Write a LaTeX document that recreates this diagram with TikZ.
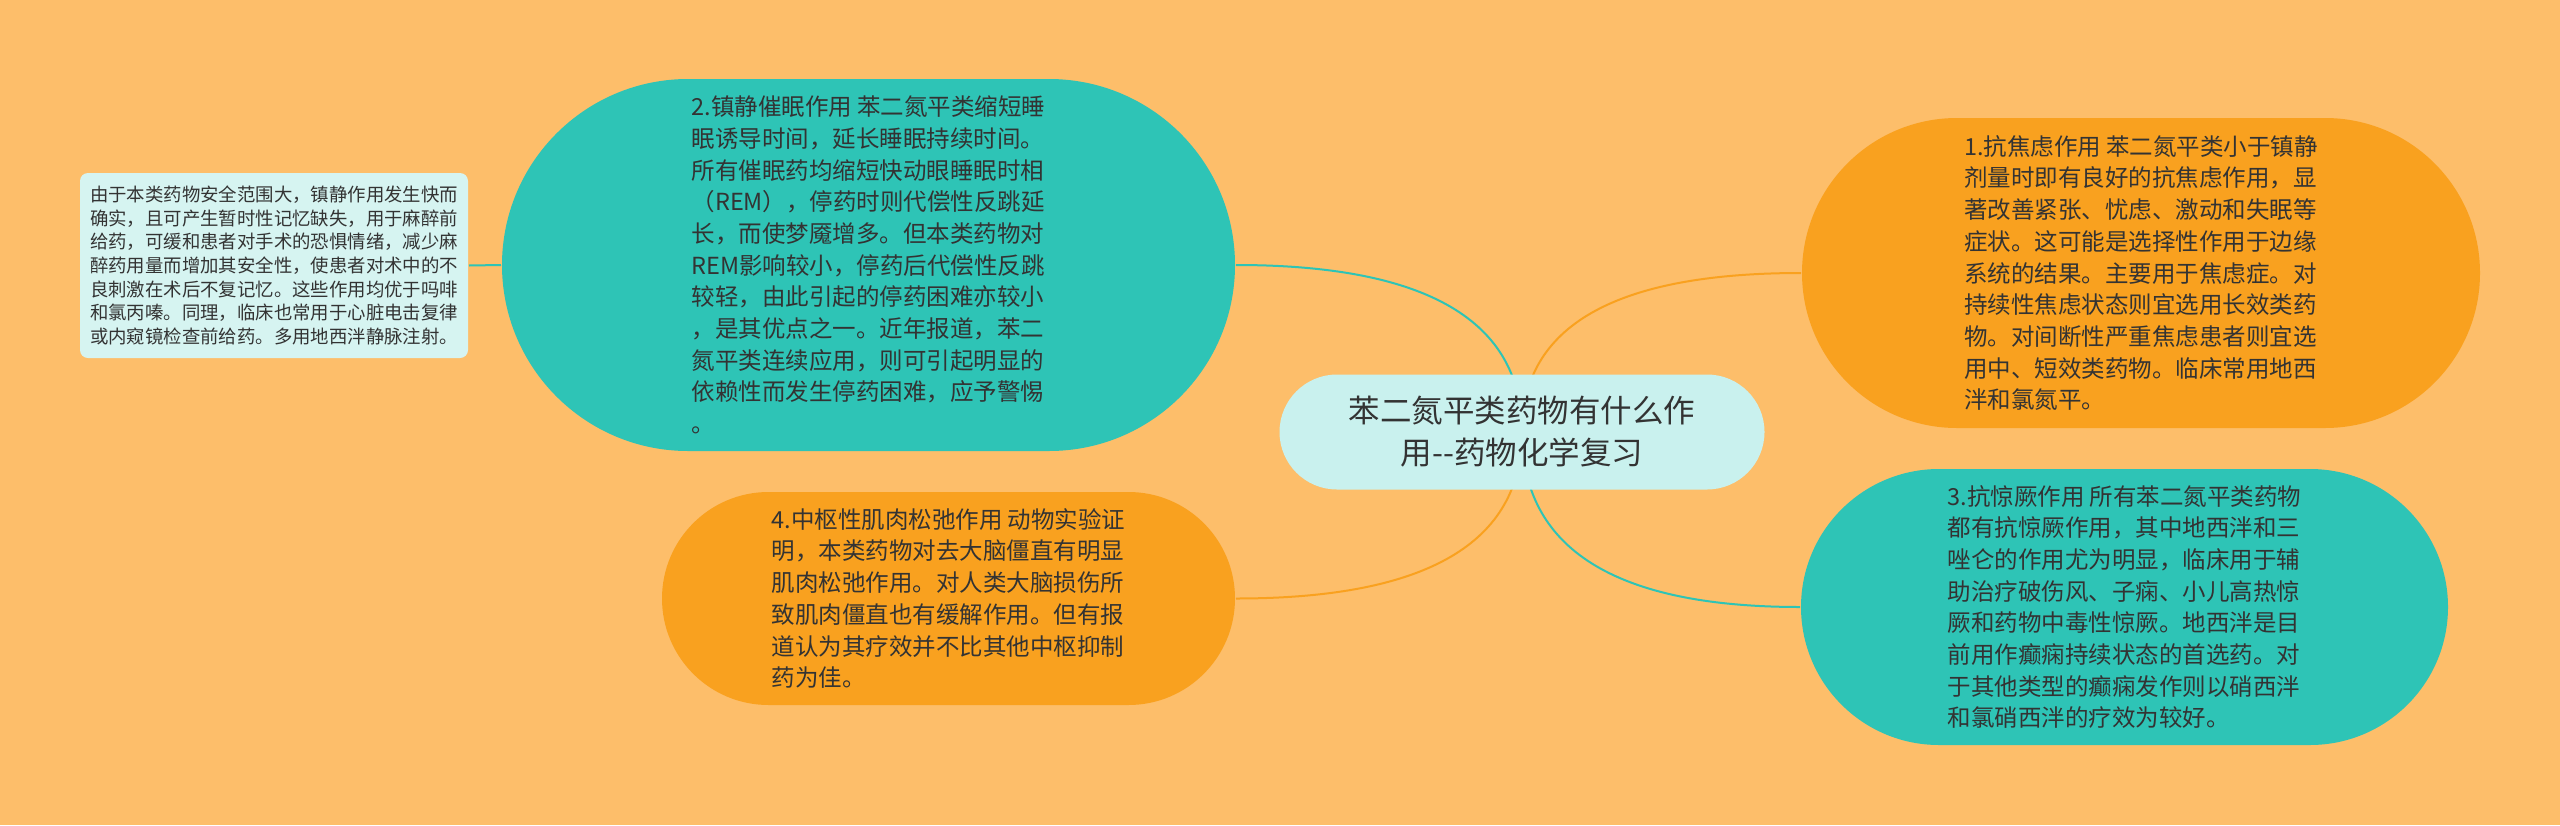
\documentclass[tikz,border=0pt]{standalone}
\usepackage{fontspec}
\newfontfamily\zhfont{Noto Sans CJK SC}
\usetikzlibrary{shapes.misc, calc, backgrounds}

\definecolor{bgorange}{HTML}{FDBE6A}
\definecolor{leaforange}{HTML}{F9A11F}
\definecolor{leafteal}{HTML}{2EC4B6}
\definecolor{rootcyan}{HTML}{C9F1EE}
\definecolor{notecyan}{HTML}{D6F4F1}
\definecolor{inkgray}{HTML}{333333}

% curved link from the centre node to one side of a branch
\newcommand{\rootlink}[3]{%
    \draw[#1] (C0.center) .. controls ($(C0.center)!2/3!(C0.center |- #2.#3)$) and ($(#2.#3)!2/3!(C0.center |- #2.#3)$) .. (#2.#3);
}

\begin{document}
\begin{tikzpicture}[x=1pt, y=-1pt,
                        every node/.style={text=inkgray, inner sep=0pt, align=left},
                        every path/.style={line width=2pt}
                    ]

    % Define custom styles for the boxes
    \tikzset{
        pill/.style n args={3}{
            rounded rectangle, fill=#1, minimum width=#2, minimum height=#3,
            font=\zhfont\fontsize{23.5pt}{31.7pt}\selectfont
        }
    }
    \tikzset{
        centre pill/.style={
            rounded rectangle, fill=rootcyan, minimum width=485pt, minimum height=115pt,
            align=center, font=\zhfont\fontsize{31.5pt}{42pt}\selectfont
        }
    }
    \tikzset{
        note box/.style={
            rectangle, rounded corners=8pt, fill=notecyan, minimum width=388pt, minimum height=185pt,
            font=\zhfont\fontsize{18.4pt}{23.7pt}\selectfont
        }
    }

    \useasboundingbox (0,0) rectangle (2560,825);
    \begin{scope}[on background layer]
        \fill[bgorange] (0,0) rectangle (2560,825);
    \end{scope}

    % Centre node
    \node[centre pill] (C0) at (1522, 432) {苯二氮平类药物有什么作\\用--药物化学复习};

    % Left side
    \node[pill={leafteal}{733pt}{372pt}] (B2) at (868.5, 265) {2.镇静催眠作用 苯二氮平类缩短睡\\眠诱导时间，延长睡眠持续时间。\\所有催眠药均缩短快动眼睡眠时相\\（REM），停药时则代偿性反跳延\\长，而使梦魇增多。但本类药物对\\REM影响较小，停药后代偿性反跳\\较轻，由此引起的停药困难亦较小\\，是其优点之一。近年报道，苯二\\氮平类连续应用，则可引起明显的\\依赖性而发生停药困难，应予警惕\\。};
    \node[pill={leaforange}{573pt}{213pt}] (B4) at (948.5, 598.5) {4.中枢性肌肉松弛作用 动物实验证\\明，本类药物对去大脑僵直有明显\\肌肉松弛作用。对人类大脑损伤所\\致肌肉僵直也有缓解作用。但有报\\道认为其疗效并不比其他中枢抑制\\药为佳。};
    \node[note box] (N1) at (274, 265.5) {由于本类药物安全范围大，镇静作用发生快而\\确实，且可产生暂时性记忆缺失，用于麻醉前\\给药，可缓和患者对手术的恐惧情绪，减少麻\\醉药用量而增加其安全性，使患者对术中的不\\良刺激在术后不复记忆。这些作用均优于吗啡\\和氯丙嗪。同理，临床也常用于心脏电击复律\\或内窥镜检查前给药。多用地西泮静脉注射。};

    % Right side
    \node[pill={leaforange}{678pt}{310pt}] (B1) at (2141, 273) {1.抗焦虑作用 苯二氮平类小于镇静\\剂量时即有良好的抗焦虑作用，显\\著改善紧张、忧虑、激动和失眠等\\症状。这可能是选择性作用于边缘\\系统的结果。主要用于焦虑症。对\\持续性焦虑状态则宜选用长效类药\\物。对间断性严重焦虑患者则宜选\\用中、短效类药物。临床常用地西\\泮和氯氮平。};
    \node[pill={leafteal}{647pt}{276pt}] (B3) at (2124.5, 607) {3.抗惊厥作用 所有苯二氮平类药物\\都有抗惊厥作用，其中地西泮和三\\唑仑的作用尤为明显，临床用于辅\\助治疗破伤风、子痫、小儿高热惊\\厥和药物中毒性惊厥。地西泮是目\\前用作癫痫持续状态的首选药。对\\于其他类型的癫痫发作则以硝西泮\\和氯硝西泮的疗效为较好。};

    % Edges between nodes
    \begin{scope}[on background layer]
        \rootlink{leafteal}{B2}{east}
        \rootlink{leaforange}{B4}{east}
        \rootlink{leaforange}{B1}{west}
        \rootlink{leafteal}{B3}{west}
        \draw[leafteal] (N1.east) -- (B2.west);
    \end{scope}

\end{tikzpicture}
\end{document}
